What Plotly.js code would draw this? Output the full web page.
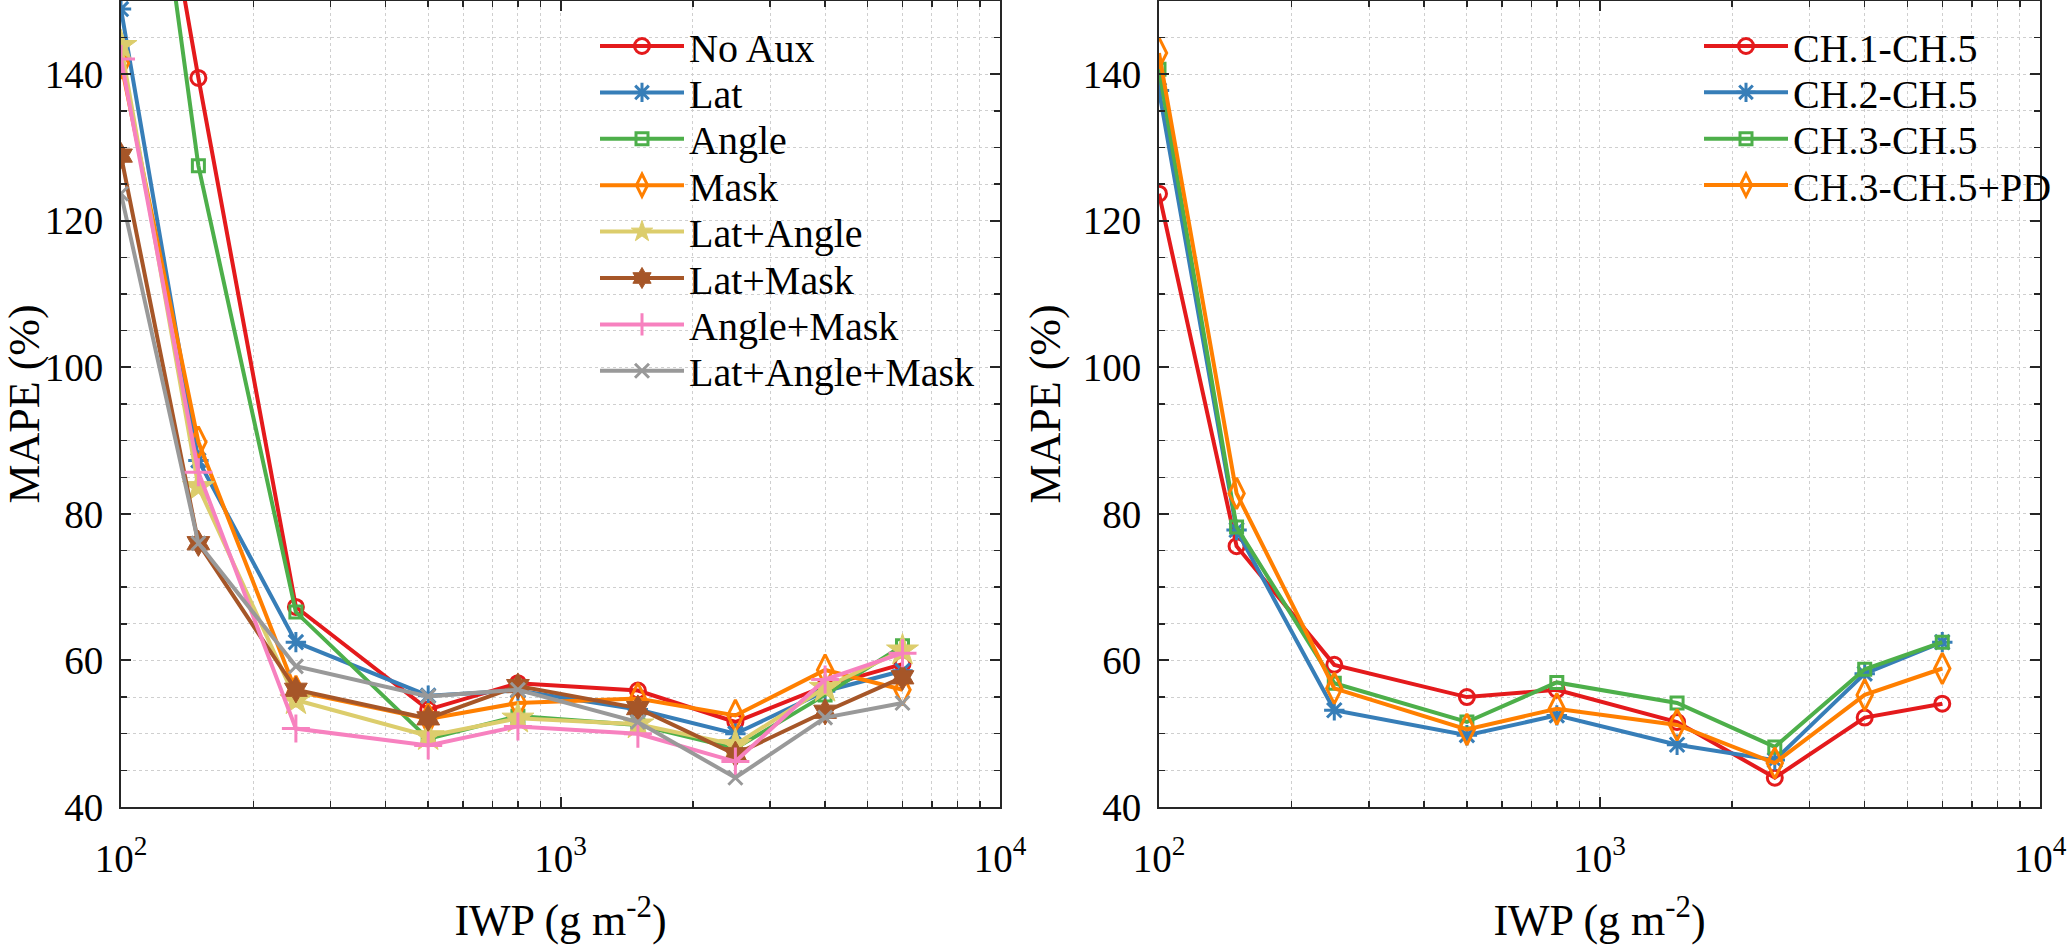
<!DOCTYPE html>
<html>
<head>
<meta charset="utf-8">
<script src="https://cdn.plot.ly/plotly-3.0.1.min.js"></script>
<style>html,body{margin:0;padding:0;background:#fff}#chart{width:2067px;height:945px}</style>
</head>
<body>
<div id="chart"></div>
<script>
// ---- data ----
const iwp = [100, 150, 250, 500, 800, 1500, 2500, 4000, 6000];

// left panel (auxiliary inputs)
const noAux        = [200.0, 139.5, 67.3, 53.3, 56.9, 55.9, 51.6, 56.5, 59.5];
const lat          = [148.9, 87.3, 62.5, 55.2, 55.9, 53.3, 50.0, 55.8, 58.6];
const angle        = [205.0, 127.5, 66.6, 49.3, 52.4, 51.2, 48.0, 55.3, 62.0];
const mask         = [141.5, 89.8, 55.8, 52.0, 54.2, 54.8, 52.5, 58.7, 56.0];
const latAngle     = [143.9, 83.7, 54.6, 49.7, 52.1, 51.3, 48.5, 56.3, 61.4];
const latMask      = [128.9, 76.0, 56.0, 52.1, 56.5, 53.5, 47.2, 53.0, 57.7];
const angleMask    = [142.1, 85.7, 50.7, 48.4, 51.0, 50.0, 46.2, 57.4, 61.0];
const latAngleMask = [123.7, 76.0, 59.2, 55.1, 56.0, 51.6, 44.0, 52.2, 54.2];

// right panel (channel combinations)
const ch1to5   = [123.7, 75.6, 59.4, 55.0, 56.0, 51.6, 44.0, 52.2, 54.1];
const ch2to5   = [137.8, 77.8, 53.2, 49.8, 52.5, 48.5, 46.4, 58.2, 62.5];
const ch3to5   = [140.7, 78.2, 56.9, 51.6, 57.0, 54.2, 48.2, 58.8, 62.5];
const ch3to5pd = [142.9, 82.8, 56.2, 50.6, 53.4, 51.2, 46.0, 55.3, 58.9];

const leftNames  = ['No Aux', 'Lat', 'Angle', 'Mask', 'Lat+Angle', 'Lat+Mask', 'Angle+Mask', 'Lat+Angle+Mask'];
const rightNames = ['CH.1-CH.5', 'CH.2-CH.5', 'CH.3-CH.5', 'CH.3-CH.5+PD'];

const xTickVals  = [100, 1000, 10000];
const xTickText  = ['10<sup>2</sup>', '10<sup>3</sup>', '10<sup>4</sup>'];
const yTickVals  = [40, 60, 80, 100, 120, 140];

// ---- styles ----
const C = {red:'#e41a1c', blue:'#377eb8', green:'#4daf4a', orange:'#ff7f00',
           yellow:'#dccd6c', brown:'#a65628', pink:'#f781bf', gray:'#999999'};
const FONT = 'Liberation Serif';
const LW = 4;
const W = 2067, H = 945, PT = 1, PB = 807;

let legendCount = 0;
const legends = {};
function legendFor(xLeft, yCenter) {
  legendCount += 1;
  const key = legendCount === 1 ? 'legend' : 'legend' + legendCount;
  legends[key] = {
    bgcolor: 'rgba(0,0,0,0)', borderwidth: 0,
    font: {family: FONT, size: 40, color: '#000'},
    itemwidth: 84,
    xref: 'paper', yref: 'paper',
    x: xLeft / W, xanchor: 'left',
    y: (PB - yCenter) / (PB - PT), yanchor: 'middle'
  };
  return key;
}

function tr(y, name, color, symbol, size, xa, ya, leg, filled) {
  return {
    x: iwp, y: y, name: name, type: 'scatter', mode: 'lines+markers',
    xaxis: xa, yaxis: ya, legend: leg,
    line: {color: color, width: LW},
    marker: {symbol: symbol, size: size, color: color,
             line: {color: color, width: filled ? 1 : 3}},
    cliponaxis: true
  };
}

const leftRows  = [46, 92.4, 138.8, 185.2, 231.6, 278, 324.4, 370.8];
const rightRows = [46, 92.3, 138.7, 185];
const LX = 595, RX = 1699;

const data = [
  tr(noAux,        leftNames[0], C.red,    'circle-open',       15, 'x',  'y',  legendFor(LX, leftRows[0]), false),
  tr(lat,          leftNames[1], C.blue,   'asterisk-open',     17, 'x',  'y',  legendFor(LX, leftRows[1]), false),
  tr(angle,        leftNames[2], C.green,  'square-open',       12, 'x',  'y',  legendFor(LX, leftRows[2]), false),
  tr(mask,         leftNames[3], C.orange, 'diamond-tall-open', 22, 'x',  'y',  legendFor(LX, leftRows[3]), false),
  tr(latAngle,     leftNames[4], C.yellow, 'star',              24, 'x',  'y',  legendFor(LX, leftRows[4]), true),
  tr(latMask,      leftNames[5], C.brown,  'hexagram',          20, 'x',  'y',  legendFor(LX, leftRows[5]), true),
  tr(angleMask,    leftNames[6], C.pink,   'cross-thin-open',   20, 'x',  'y',  legendFor(LX, leftRows[6]), false),
  tr(latAngleMask, leftNames[7], C.gray,   'x-thin-open',       14, 'x',  'y',  legendFor(LX, leftRows[7]), false),
  tr(ch1to5,   rightNames[0], C.red,    'circle-open',       15, 'x2', 'y2', legendFor(RX, rightRows[0]), false),
  tr(ch2to5,   rightNames[1], C.blue,   'asterisk-open',     17, 'x2', 'y2', legendFor(RX, rightRows[1]), false),
  tr(ch3to5,   rightNames[2], C.green,  'square-open',       12, 'x2', 'y2', legendFor(RX, rightRows[2]), false),
  tr(ch3to5pd, rightNames[3], C.orange, 'diamond-tall-open', 22, 'x2', 'y2', legendFor(RX, rightRows[3]), false)
];

const gridCol = '#cfcfcf';
function xAxis(domain, anchor) {
  return {
    type: 'log', range: [2, 4], domain: domain, anchor: anchor,
    tickmode: 'array', tickvals: xTickVals, ticktext: xTickText,
    ticks: 'inside', ticklen: 10, tickwidth: 2, tickcolor: '#262626',
    showline: true, linecolor: '#262626', linewidth: 2, mirror: 'ticks',
    showgrid: true, gridcolor: gridCol, griddash: 'dot', gridwidth: 1,
    minor: {tickmode: 'array', tickvals: [200,300,400,500,600,700,800,900,2000,3000,4000,5000,6000,7000,8000,9000],
            ticks: 'inside', ticklen: 6, tickwidth: 1.5, tickcolor: '#262626',
            showgrid: true, gridcolor: gridCol, griddash: 'dot', gridwidth: 1},
    tickfont: {family: FONT, size: 39, color: '#000'},
    ticklabelstandoff: 16,
    title: {text: 'IWP (g m<sup>-2</sup>)', font: {family: FONT, size: 44, color: '#000'}, standoff: 34},
    zeroline: false, automargin: false
  };
}
function yAxis(anchor) {
  return {
    range: [40, 150], anchor: anchor, domain: [0, 1],
    tickmode: 'array', tickvals: yTickVals,
    ticks: 'inside', ticklen: 10, tickwidth: 2, tickcolor: '#262626',
    showline: true, linecolor: '#262626', linewidth: 2, mirror: 'ticks',
    showgrid: true, gridcolor: gridCol, griddash: 'dot', gridwidth: 1,
    minor: {dtick: 5, ticks: 'inside', ticklen: 6, tickwidth: 1.5, tickcolor: '#262626',
            showgrid: true, gridcolor: gridCol, griddash: 'dot', gridwidth: 1},
    tickfont: {family: FONT, size: 39, color: '#000'},
    ticklabelstandoff: 8,
    title: {text: 'MAPE (%)', font: {family: FONT, size: 44, color: '#000'}, standoff: 8},
    zeroline: false, automargin: false
  };
}

const layout = Object.assign({
  width: W, height: H,
  margin: {l: 0, r: 0, t: PT, b: H - PB, autoexpand: false},
  paper_bgcolor: '#fff', plot_bgcolor: '#fff',
  showlegend: true,
  xaxis:  xAxis([121/W, 1000/W], 'y'),
  yaxis:  yAxis('x'),
  xaxis2: xAxis([1159/W, 2040/W], 'y2'),
  yaxis2: yAxis('x2')
}, legends);

Plotly.newPlot('chart', data, layout, {staticPlot: true, displayModeBar: false});
</script>
</body>
</html>
